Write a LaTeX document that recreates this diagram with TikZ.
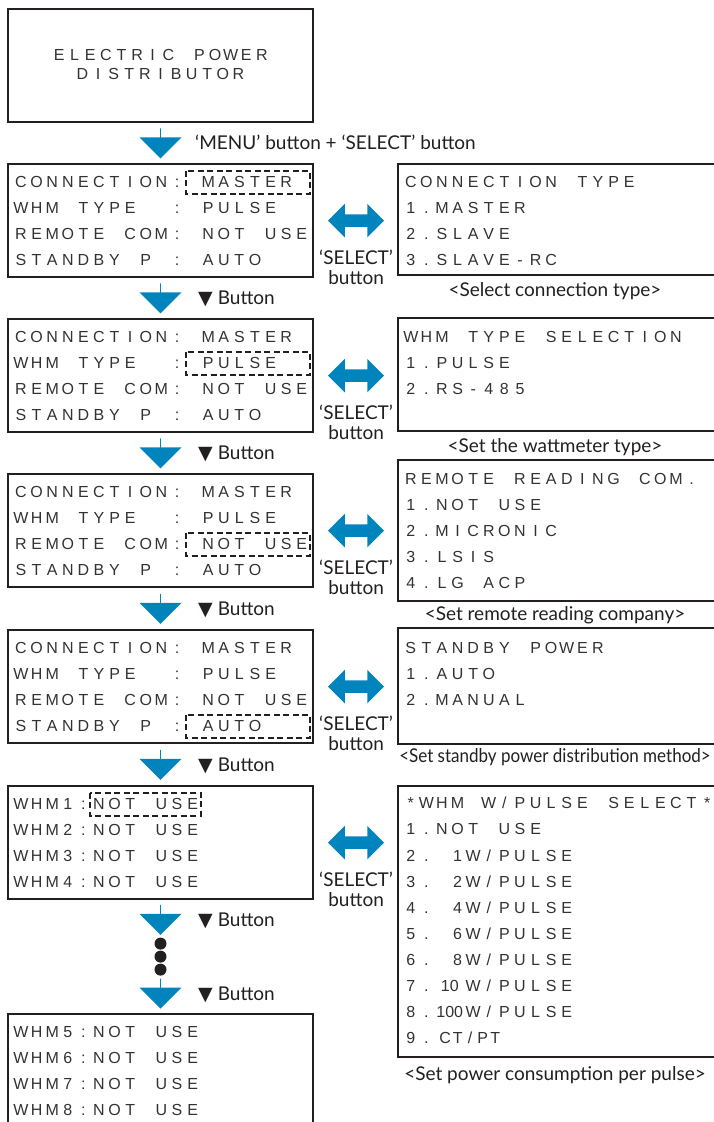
\documentclass[tikz,border=0pt]{standalone}
\usepackage{graphicx}
\usepackage{fontspec}
\usetikzlibrary{shapes.arrows,positioning,calc}

\newfontfamily\lcdfont{Liberation Sans}
\newfontfamily\hintfont{Lato}
\newfontfamily\symfont{DejaVu Sans}

\definecolor{lgblue}{RGB}{0,132,190}
\definecolor{framecol}{RGB}{35,31,32}
\definecolor{lcdink}{RGB}{50,50,50}

% one character per display cell, _ is an empty cell
\newlength\lcdpitch
\setlength\lcdpitch{15.6pt}
\newcommand\lcdcell[1]{\makebox[\lcdpitch]{#1}}
\def\lcdrun#1{\ifx#1\relax\else\lcdcell{\ifx#1_\else#1\fi}\expandafter\lcdrun\fi}
\newcommand\lcd[1]{\expandafter\lcdrun#1\relax}

\begin{document}
\begin{tikzpicture}[x=1pt,y=-1pt,
    every node/.style={inner sep=0pt},
    lcdbox/.style={draw=framecol, line width=2.2pt, minimum width=305pt, anchor=north},
    optbox/.style={draw=framecol, line width=2.2pt, minimum width=319pt, anchor=north west},
    lcdrow/.style={anchor=west, text=lcdink, font=\lcdfont\fontsize{16pt}{18pt}\selectfont,
      text height=11.7pt, text depth=0pt},
    hint/.style={text=framecol, font=\hintfont\fontsize{19pt}{21pt}\selectfont,
      text height=16pt, text depth=3pt},
    selnote/.style={text=framecol, font=\hintfont\fontsize{19pt}{20pt}\selectfont,
      align=center, anchor=north},
    downstep/.style={single arrow, fill=lgblue, shape border rotate=270,
      minimum height=30pt, minimum width=42pt,
      single arrow head extend=13pt, single arrow head indent=0pt},
    selswitch/.style={double arrow, fill=lgblue, inner sep=6pt,
      minimum height=56pt, minimum width=33pt,
      double arrow head extend=10.5pt, double arrow head indent=0pt},
    selframe/.style={draw=framecol, line width=2pt, dash pattern=on 6pt off 3.5pt},
    dotmark/.style={circle, fill=framecol, minimum size=12pt}]
    \useasboundingbox (0,0) rectangle (713,1122);

    % left column
    \node[lcdbox, minimum height=113pt] (m0) at (160.5,8) {};
    \node[lcdrow, anchor=center] (m0-0) at (160.5,55) {\lcd{ELECTRIC_POWER}};
    \node[lcdrow, anchor=center] (m0-1) at (160.5,74) {\lcd{DISTRIBUTOR}};

    \foreach \k/\ty in {1/163,2/318,3/473,4/629} {
      \node[lcdbox, minimum height=113pt] (m\k) at (160.5,\ty) {};
      \foreach \txt [count=\i from 0] in {CONNECTION:_MASTER,WHM_TYPE__:_PULSE,REMOTE_COM:_NOT_USE,STANDBY_P_:_AUTO}
        \node[lcdrow] (m\k-\i) at (13,\ty+19+26*\i) {\lcd{\txt}};
    }
    \node[lcdbox, minimum height=113pt] (m5) at (160.5,785) {};
    \foreach \txt [count=\i from 0] in {WHM1:NOT_USE,WHM2:NOT_USE,WHM3:NOT_USE,WHM4:NOT_USE}
      \node[lcdrow] (m5-\i) at (13,804+26*\i) {\lcd{\txt}};
    \node[lcdbox, minimum height=120pt] (m6) at (160.5,1013) {};
    \foreach \txt [count=\i from 0] in {WHM5:NOT_USE,WHM6:NOT_USE,WHM7:NOT_USE,WHM8:NOT_USE}
      \node[lcdrow] (m6-\i) at (13,1032+26*\i) {\lcd{\txt}};

    % current item
    \draw[selframe] ($(m1-0.west)+(173,-11.5)$) rectangle ++(123.5,23);
    \draw[selframe] ($(m2-1.west)+(173,-11.5)$) rectangle ++(123.5,23);
    \draw[selframe] ($(m3-2.west)+(173,-11.5)$) rectangle ++(123.5,23);
    \draw[selframe] ($(m4-3.west)+(173,-11.5)$) rectangle ++(123.5,23);
    \draw[selframe] ($(m5-0.west)+(76.5,-11.5)$) rectangle ++(111,23);

    % right column
    \node[optbox, minimum height=111pt] (o1) at (397,163) {};
    \foreach \txt [count=\i from 0] in {CONNECTION_TYPE,1.MASTER,2.SLAVE,3.SLAVE-RC}
      \node[lcdrow] (o1-\i) at (402.8,182+26*\i) {\lcd{\txt}};
    \node[optbox, minimum height=113pt] (o2) at (397,317) {};
    \foreach \txt [count=\i from 0] in {WHM_TYPE_SELECTION,1.PULSE,2.RS-485}
      \node[lcdrow] (o2-\i) at (402.8,337+26*\i) {\lcd{\txt}};
    \node[optbox, minimum height=141pt] (o3) at (397,459) {};
    \foreach \txt [count=\i from 0] in {REMOTE_READING_COM.,1.NOT_USE,2.MICRONIC,3.LSIS,4.LG_ACP}
      \node[lcdrow] (o3-\i) at (402.8,479+25.8*\i) {\lcd{\txt}};
    \node[optbox, minimum height=116pt] (o4) at (397,627) {};
    \foreach \txt [count=\i from 0] in {STANDBY_POWER,1.AUTO,2.MANUAL}
      \node[lcdrow] (o4-\i) at (402.8,648+26*\i) {\lcd{\txt}};
    \node[optbox, minimum height=271pt] (o5) at (397,785) {};
    \foreach \txt [count=\i from 0] in {*WHM_W/PULSE_SELECT*,1.NOT_USE,2._1W/PULSE,3._2W/PULSE,4._4W/PULSE,5._6W/PULSE,6._8W/PULSE}
      \node[lcdrow] (o5-\i) at (402.8,803+26.1*\i) {\lcd{\txt}};
    \node[lcdrow] (o5-7) at (402.8,803+26.1*7) {\lcd{7.}\makebox[2\lcdpitch]{10}\lcd{W/PULSE}};
    \node[lcdrow] (o5-8) at (402.8,803+26.1*8) {\lcd{8.}\makebox[2\lcdpitch]{100}\lcd{W/PULSE}};
    \node[lcdrow] (o5-9) at (402.8,803+26.1*9) {\lcd{9.}\hspace{4.7pt}{\setlength\lcdpitch{12.5pt}\lcd{CT/PT}}};

    \node[hint] (c1) at (555,290) {<Select connection type>};
    \node[hint] (c2) at (555,446) {<Set the wattmeter type>};
    \node[hint] (c3) at (555,614) {<Set remote reading company>};
    \node[hint] (c4) at (555,756) {\scalebox{0.895}[1]{<Set standby power distribution method>}};
    \node[hint] (c5) at (555,1074) {<Set power consumption per pulse>};

    % steps down
    \node[downstep] (d1) at ($(m0.south)!0.5!(m1.north)$) {};
    \node[downstep] (d2) at ($(m1.south)!0.5!(m2.north)$) {};
    \node[downstep] (d3) at ($(m2.south)!0.5!(m3.north)$) {};
    \node[downstep] (d4) at ($(m3.south)!0.5!(m4.north)$) {};
    \node[downstep] (d5) at ($(m4.south)!0.5!(m5.north)$) {};
    \node[downstep] (d6) at ($(m5.south)+(0,19.5)$) {};
    \node[downstep] (d7) at ($(m6.north)+(0,-19.5)$) {};
    \foreach \i/\dy in {1/-13,2/0,3/13}
      \node[dotmark] (k\i) at ($(d6)!0.5!(d7)+(0,\dy)$) {};

    \node[hint, anchor=west] (l1) at ($(d1)+(34.5,0)$) {‘MENU’ button + ‘SELECT’ button};
    \foreach \k in {2,...,7}
      \node[hint, anchor=west] (l\k) at ($(d\k)+(37.5,0)$) {{\symfont ▼}\hspace{5pt}Button};

    % select toggles
    \foreach \k in {1,...,5} {
      \node[selswitch] (s\k) at ($(m\k.east)+(42,0)$) {};
      \node[selnote] (n\k) at ($(s\k)+(0,29)$) {‘SELECT’\\button};
    }
\end{tikzpicture}
\end{document}
